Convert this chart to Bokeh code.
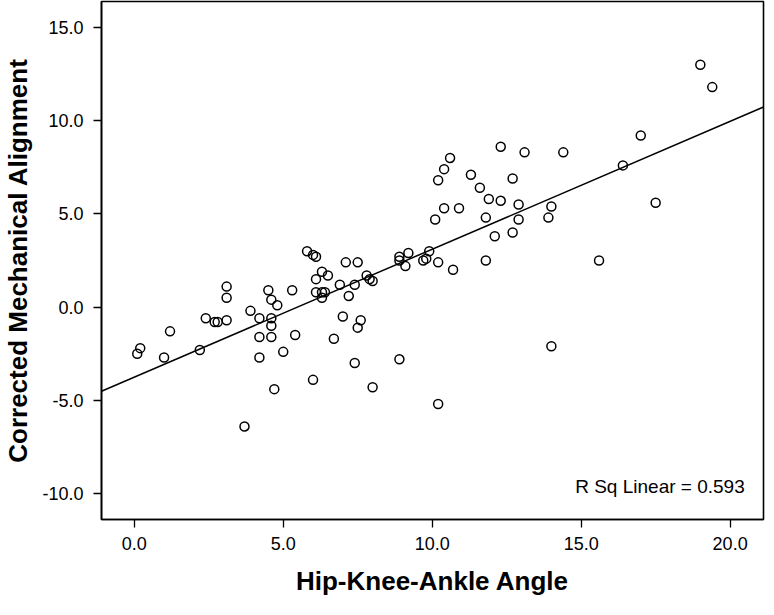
import numpy as np
from bokeh.plotting import figure
from bokeh.models import FixedTicker, NumeralTickFormatter, Range1d, Label
from bokeh.embed import file_html
from bokeh.resources import INLINE

# Data
hka_angle = [19.0, 19.4, 17.0, 16.4, 12.3, 13.1, 14.4, 10.6, 10.4, 10.2,
             11.3, 12.7, 11.6, 11.9, 12.3, 12.9, 14.0, 17.5, 10.4, 10.9,
             10.1, 11.8, 12.9, 13.9, 12.1, 12.7, 8.9, 8.9, 9.2, 9.1,
             9.7, 9.8, 9.9, 10.2, 10.7, 11.8, 15.6, 8.9, 14.0, 10.2,
             5.8, 6.0, 6.1, 7.1, 7.5, 6.3, 6.5, 6.1, 7.8, 7.9,
             8.0, 6.9, 7.4, 6.1, 6.3, 6.4, 6.3, 7.2, 3.1, 3.1,
             4.5, 4.6, 4.8, 5.3, 3.9, 4.2, 4.6, 4.6, 2.4, 2.7,
             2.8, 3.1, 1.2, 0.2, 0.1, 1.0, 2.2, 4.2, 4.6, 5.4,
             4.2, 5.0, 7.0, 7.6, 7.5, 6.7, 7.4, 6.0, 4.7, 8.0,
             3.7]
corrected_ma = [13.0, 11.8, 9.2, 7.6, 8.6, 8.3, 8.3, 8.0, 7.4, 6.8,
                7.1, 6.9, 6.4, 5.8, 5.7, 5.5, 5.4, 5.6, 5.3, 5.3,
                4.7, 4.8, 4.7, 4.8, 3.8, 4.0, 2.7, 2.5, 2.9, 2.2,
                2.5, 2.6, 3.0, 2.4, 2.0, 2.5, 2.5, -2.8, -2.1, -5.2,
                3.0, 2.8, 2.7, 2.4, 2.4, 1.9, 1.7, 1.5, 1.7, 1.5,
                1.4, 1.2, 1.2, 0.8, 0.8, 0.8, 0.5, 0.6, 1.1, 0.5,
                0.9, 0.4, 0.1, 0.9, -0.2, -0.6, -0.6, -1.0, -0.6, -0.8,
                -0.8, -0.7, -1.3, -2.2, -2.5, -2.7, -2.3, -1.6, -1.6, -1.5,
                -2.7, -2.4, -0.5, -0.7, -1.1, -1.7, -3.0, -3.9, -4.4, -4.3,
                -6.4]
x_ticks = [0, 5, 10, 15, 20]
y_ticks = [-10, -5, 0, 5, 10, 15]
r2_text = "R Sq Linear = 0.593"

X_START, X_END = -1.10, 21.12
Y_START, Y_END = -11.39, 16.39

FONT = "Liberation Sans"

p = figure(width=765, height=599, output_backend="svg", toolbar_location=None,
           x_range=Range1d(X_START, X_END), y_range=Range1d(Y_START, Y_END),
           min_border_left=93, min_border_right=2, min_border_top=1,
           min_border_bottom=80)

p.xgrid.visible = False
p.ygrid.visible = False
p.outline_line_color = "black"
p.outline_line_width = 1.6
p.background_fill_color = "white"
p.border_fill_color = "white"

# regression line
slope, intercept = np.polyfit(hka_angle, corrected_ma, 1)
lx = [X_START, X_END]
ly = [intercept + slope * v for v in lx]
p.line(lx, ly, line_color="black", line_width=1.5)

p.scatter(hka_angle, corrected_ma, size=9, marker="circle",
          line_color="black", line_width=1.5, fill_alpha=0)

for ax, ticks in ((p.xaxis[0], x_ticks), (p.yaxis[0], y_ticks)):
    ax.ticker = FixedTicker(ticks=ticks)
    ax.formatter = NumeralTickFormatter(format="0.0")
    ax.minor_tick_line_color = None
    ax.major_tick_in = 0
    ax.major_tick_out = 8
    ax.major_tick_line_color = "black"
    ax.major_tick_line_width = 1.3
    ax.axis_line_color = "black"
    ax.axis_line_width = 1.6
    ax.major_label_text_font = FONT
    ax.major_label_text_font_size = "18px"
    ax.major_label_text_color = "black"
    ax.axis_label_text_font = FONT
    ax.axis_label_text_font_style = "bold"
    ax.axis_label_text_font_size = "26px"
    ax.axis_label_text_color = "black"

p.xaxis.axis_label = "Hip-Knee-Ankle Angle"
p.yaxis.axis_label = "Corrected Mechanical Alignment"
p.xaxis.major_label_standoff = 9
p.xaxis.axis_label_standoff = 13
p.yaxis.major_label_standoff = 10
p.yaxis.axis_label_standoff = 6

p.add_layout(Label(x=X_END - 0.63, y=-9.64, text=r2_text, text_align="right",
                   text_baseline="middle", text_font=FONT,
                   text_font_size="19px", text_color="black"))

open("out.html", "w").write(file_html(p, INLINE))
